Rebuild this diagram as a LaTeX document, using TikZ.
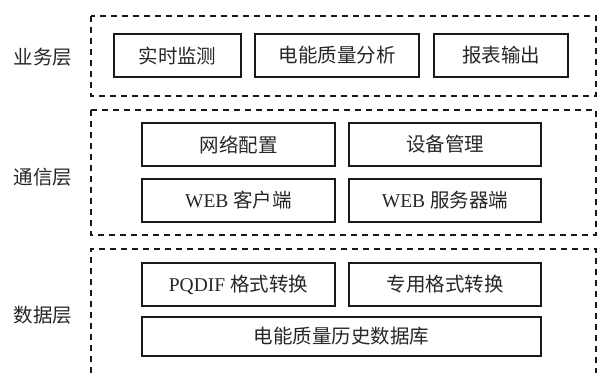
\documentclass[tikz,border=0pt]{standalone}
\usepackage{fontspec}
\setmainfont{Liberation Serif}
\newfontfamily\cjk{Noto Sans CJK SC}[Scale=1.0]
\begin{document}
\begin{tikzpicture}[x=1pt,y=-1pt,
  txt/.style={font=\fontsize{19.5}{22}\selectfont, text=black!85},
  box/.style={draw=black!90, line width=1.9pt, minimum height=43pt, inner sep=0pt, txt},
  layer/.style={draw=black!90, line width=1.6pt, dash pattern=on 6pt off 5pt},
  lbl/.style={txt, inner sep=0pt}]
\useasboundingbox (0,0) rectangle (598,373);
% layers
\draw[layer] (91,16) rectangle (596,96);
\draw[layer] (91,110) rectangle (596,235);
\draw[layer] (91,373) -- (91,249) -- (596,249) -- (596,373);
% labels
\node[lbl] (l1) at (43,57) {\cjk 业务层};
\node[lbl] (l2) at (43,177) {\cjk 通信层};
\node[lbl] (l3) at (43,315) {\cjk 数据层};
% business
\node[box, minimum width=127pt] (b1) at (177.5,55.5) {\cjk 实时监测};
\node[box, minimum width=164pt] (b2) at (337,55.5) {\cjk 电能质量分析};
\node[box, minimum width=134pt] (b3) at (501,55.5) {\cjk 报表输出};
% communication
\node[box, minimum width=193pt] (c1) at (238.5,144.5) {\cjk 网络配置};
\node[box, minimum width=192pt] (c2) at (445,144.5) {\cjk 设备管理};
\node[box, minimum width=193pt] (c3) at (238.5,200.5) {WEB {\cjk 客户端}};
\node[box, minimum width=192pt] (c4) at (445,200.5) {WEB {\cjk 服务器端}};
% data
\node[box, minimum width=193pt] (d1) at (238.5,284.5) {PQDIF {\cjk 格式转换}};
\node[box, minimum width=192pt] (d2) at (445,284.5) {\cjk 专用格式转换};
\node[box, minimum width=399pt, minimum height=39pt] (d3) at (341.5,336.5) {\cjk 电能质量历史数据库};
\end{tikzpicture}
\end{document}
